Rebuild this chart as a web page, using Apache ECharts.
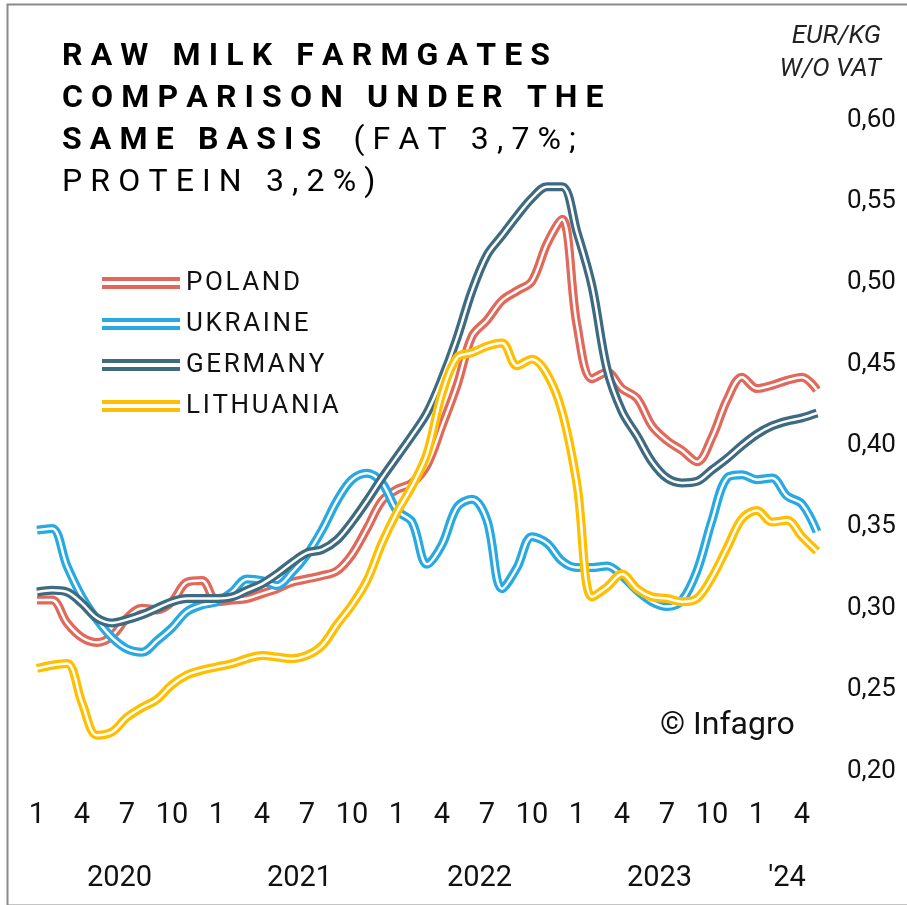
<!DOCTYPE html>
<html>
<head>
<meta charset="utf-8">
<script src="https://cdn.jsdelivr.net/npm/echarts@6/dist/echarts.min.js"></script>
<style>
html,body{margin:0;padding:0;background:#fff;}
#chart{width:907px;height:905px;}
</style>
</head>
<body>
<div id="chart"></div>
<script>
const categories = [
 '2020-01','2020-02','2020-03','2020-04','2020-05','2020-06','2020-07','2020-08','2020-09','2020-10','2020-11','2020-12',
 '2021-01','2021-02','2021-03','2021-04','2021-05','2021-06','2021-07','2021-08','2021-09','2021-10','2021-11','2021-12',
 '2022-01','2022-02','2022-03','2022-04','2022-05','2022-06','2022-07','2022-08','2022-09','2022-10','2022-11','2022-12',
 '2023-01','2023-02','2023-03','2023-04','2023-05','2023-06','2023-07','2023-08','2023-09','2023-10','2023-11','2023-12',
 '2024-01','2024-02','2024-03','2024-04','2024-05'
];
const yearLabels = {'2020':'2020','2021':'2021','2022':'2022','2023':'2023','2024':"'24"};
const seriesNames = ['POLAND','UKRAINE','GERMANY','LITHUANIA'];

const poland = [
 0.305,0.305,0.291,0.282,0.279,0.283,0.294,0.300,0.299,0.304,0.316,0.317,
 0.304,0.305,0.306,0.309,0.312,0.316,0.318,0.320,0.323,0.333,0.349,0.366,
 0.373,0.377,0.388,0.412,0.437,0.467,0.477,0.489,0.495,0.501,0.524,0.539,
 0.474,0.441,0.445,0.435,0.429,0.412,0.403,0.397,0.390,0.405,0.428,0.442,
 0.435,0.437,0.440,0.442,0.434
];
const ukraine = [
 0.348,0.349,0.326,0.307,0.293,0.282,0.275,0.273,0.280,0.288,0.298,0.302,
 0.304,0.310,0.318,0.317,0.314,0.322,0.333,0.348,0.366,0.379,0.383,0.377,
 0.360,0.353,0.327,0.339,0.362,0.367,0.354,0.312,0.325,0.344,0.340,0.329,
 0.325,0.325,0.326,0.320,0.311,0.304,0.301,0.305,0.323,0.354,0.380,0.382,
 0.379,0.380,0.369,0.364,0.347
];
const germany = [
 0.310,0.311,0.310,0.303,0.294,0.291,0.293,0.296,0.300,0.304,0.306,0.306,
 0.306,0.307,0.311,0.315,0.321,0.328,0.334,0.336,0.342,0.353,0.366,0.380,
 0.393,0.406,0.420,0.441,0.466,0.495,0.517,0.529,0.541,0.552,0.559,0.559,
 0.531,0.498,0.447,0.421,0.406,0.390,0.380,0.377,0.378,0.385,0.392,0.400,
 0.407,0.412,0.415,0.417,0.420
];
const lithuania = [
 0.263,0.265,0.266,0.242,0.222,0.224,0.233,0.239,0.244,0.253,0.259,0.262,
 0.264,0.266,0.269,0.271,0.270,0.269,0.271,0.277,0.290,0.302,0.317,0.340,
 0.359,0.375,0.395,0.432,0.454,0.457,0.461,0.463,0.449,0.453,0.444,0.421,
 0.376,0.307,0.313,0.321,0.312,0.307,0.306,0.304,0.306,0.319,0.337,0.355,
 0.360,0.353,0.354,0.344,0.335
];
const yTicks = [0.20,0.25,0.30,0.35,0.40,0.45,0.50,0.55,0.60];

const colors = ['#E0695B','#29A9E1','#3E6B80','#FFBF00'];
const values = [poland, ukraine, germany, lithuania];

// year label positions = centre of each year's month indices
const yearCenters = [];
const yearOrder = [];
categories.forEach((c, i) => {
  const y = c.slice(0,4);
  let k = yearOrder.indexOf(y);
  if (k < 0) { yearOrder.push(y); yearCenters.push([i, i]); k = yearOrder.length - 1; }
  yearCenters[k][1] = i;
});
const yearPos = yearCenters.map(p => (p[0] + p[1]) / 2);

const track = s => s.split('').join('\u2005');
const trackLight = s => s.split('').join('\u200A');

const series = [];
seriesNames.forEach((n, k) => {
  series.push({
    name: n, type: 'line', data: values[k], smooth: 0.35, showSymbol: false,
    lineStyle: { color: colors[k], width: 9 }, itemStyle: { color: colors[k] },
    silent: true, z: 2 + k * 2
  });
  series.push({
    name: n + '_inner', type: 'line', data: values[k], smooth: 0.35, showSymbol: false,
    lineStyle: { color: '#ffffff', width: 2.5 }, itemStyle: { color: '#ffffff' },
    silent: true, z: 3 + k * 2
  });
});

const chart = echarts.init(document.getElementById('chart'), null, { renderer: 'canvas' });
chart.setOption({
  animation: false,
  backgroundColor: '#ffffff',
  grid: { left: 37, right: 90, top: 120, bottom: 134, containLabel: false },
  legend: {
    data: seriesNames,
    orient: 'vertical', left: 97, top: 263,
    itemWidth: 80, itemHeight: 12, itemGap: 11,
    icon: 'path://M0,0H78V4H0Z M0,8H78V12H0Z',
    formatter: n => trackLight(n),
    textStyle: { fontFamily: 'Roboto', fontSize: 26, color: '#111', lineHeight: 30 },
    selectedMode: false
  },
  xAxis: [{
    type: 'category', data: categories, boundaryGap: false,
    axisLine: { show: false }, axisTick: { show: false }, splitLine: { show: false },
    axisLabel: {
      interval: 2, margin: 30,
      formatter: v => String(parseInt(v.slice(5), 10)),
      fontFamily: 'Roboto', fontSize: 29, color: '#111'
    }
  }, {
    type: 'value', min: 0, max: categories.length - 1, position: 'bottom', offset: 63,
    axisLine: { show: false }, axisTick: { show: false }, splitLine: { show: false },
    axisLabel: {
      customValues: yearPos, margin: 30,
      formatter: v => { const i = yearPos.indexOf(v); return i >= 0 ? yearLabels[yearOrder[i]] : ''; },
      fontFamily: 'Roboto', fontSize: 29, color: '#111'
    }
  }],
  yAxis: {
    type: 'value', position: 'right', min: yTicks[0], max: yTicks[yTicks.length - 1], interval: 0.05,
    axisLine: { show: false }, axisTick: { show: false }, splitLine: { show: false },
    axisLabel: {
      margin: 30, formatter: v => v.toFixed(2).replace('.', ','),
      fontFamily: 'Roboto', fontSize: 26, color: '#111'
    }
  },
  graphic: [
    { type: 'rect', left: 5, top: 2, shape: { width: 1000, height: 901 }, style: { fill: 'none', stroke: '#8a8a8a', lineWidth: 2 }, silent: true },
    {
      type: 'text', left: 62, top: 41,
      style: {
        text: '{b|' + track('RAW MILK FARMGATES') + '}\n{b|' + track('COMPARISON UNDER THE') + '}\n{b|' + track('SAME BASIS') + '}{n|' + track('  (FAT 3,7%;') + '}\n{n|' + track('PROTEIN 3,2%)') + '}',
        rich: {
          b: { fontFamily: 'Roboto', fontWeight: 'bold', fontSize: 32, lineHeight: 42, fill: '#000' },
          n: { fontFamily: 'Roboto', fontWeight: 'normal', fontSize: 32, lineHeight: 42, fill: '#000' }
        }
      }
    },
    {
      type: 'text', x: 881, y: 20,
      style: { text: 'EUR/KG\nW/O VAT', fontFamily: 'Roboto', fontStyle: 'italic', fontSize: 26, lineHeight: 33, fill: '#222', align: 'right', verticalAlign: 'top' }
    },
    {
      type: 'text', left: 660, top: 710,
      style: { text: '© Infagro', fontFamily: 'Roboto', fontSize: 32, fill: '#111' }
    }
  ],
  series: series
});
</script>
</body>
</html>
